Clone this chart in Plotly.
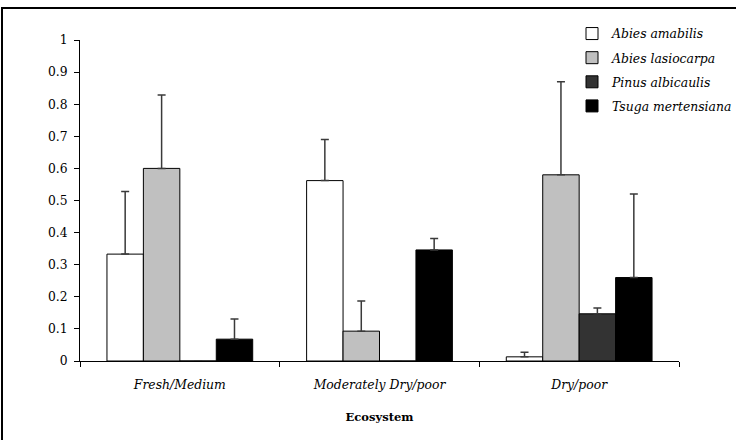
import plotly.graph_objects as go

categories = ["Fresh/Medium", "Moderately Dry/poor", "Dry/poor"]
species = ["Abies amabilis", "Abies lasiocarpa", "Pinus albicaulis", "Tsuga mertensiana"]
abies_amabilis = [0.333, 0.562, 0.013]
abies_lasiocarpa = [0.600, 0.093, 0.580]
pinus_albicaulis = [0.0, 0.0, 0.147]
tsuga_mertensiana = [0.068, 0.346, 0.260]
# upper error (plus) amounts
err_abies_amabilis = [0.195, 0.128, 0.014]
err_abies_lasiocarpa = [0.229, 0.094, 0.290]
err_pinus_albicaulis = [None, None, 0.018]
err_tsuga_mertensiana = [0.063, 0.036, 0.260]
y_tickvals = [0, 0.1, 0.2, 0.3, 0.4, 0.5, 0.6, 0.7, 0.8, 0.9, 1]
y_ticktext = ["0", "0.1", "0.2", "0.3", "0.4", "0.5", "0.6", "0.7", "0.8", "0.9", "1"]

values = [abies_amabilis, abies_lasiocarpa, pinus_albicaulis, tsuga_mertensiana]
errors = [err_abies_amabilis, err_abies_lasiocarpa, err_pinus_albicaulis, err_tsuga_mertensiana]
fills = ["#FFFFFF", "#C0C0C0", "#333333", "#000000"]

FONT = "DejaVu Serif"
W, H = 736, 440
L, R, T, B = 80, 57, 40, 79

fig = go.Figure()
for i, (name, vals, errs, col) in enumerate(zip(species, values, errors, fills)):
    fig.add_trace(go.Bar(
        name=name,
        x=categories,
        y=vals,
        marker=dict(color=col, line=dict(color="#000000", width=1)),
        error_y=dict(type="data", symmetric=False, array=errs, arrayminus=[0, 0, 0],
                     color="#3a3a3a", thickness=1.5, width=4),
        legendgroup=f"g{i}",
    ))

def px_to_paper_x(px):
    return (px - L) / (W - L - R)

def px_to_paper_y(py):
    return (H - B - py) / (H - T - B)

fig.update_layout(
    width=W, height=H,
    margin=dict(l=L, r=R, t=T, b=B, pad=0, autoexpand=False),
    paper_bgcolor="#FFFFFF",
    plot_bgcolor="#FFFFFF",
    barmode="group",
    bargap=0.27,
    bargroupgap=0,
    font=dict(family=FONT, size=12.4, color="#000000"),
    showlegend=True,
    legend=dict(
        x=px_to_paper_x(572), y=px_to_paper_y(19),
        xanchor="left", yanchor="top",
        font=dict(family=FONT, size=12.4, color="#000000", style="italic"),
        bgcolor="rgba(0,0,0,0)",
        tracegroupgap=5,
        itemwidth=30,
    ),
    xaxis=dict(
        automargin=False,
        showline=True, linecolor="#000000", linewidth=1,
        ticks="outside", ticklen=5, tickcolor="#000000", tickwidth=1,
        tickson="boundaries",
        showgrid=False, zeroline=False,
        tickfont=dict(family=FONT, size=12.4, color="#000000", style="italic"),
        ticklabelstandoff=12,
        title=dict(text="<b>Ecosystem</b>", font=dict(family=FONT, size=11.5, color="#000000"), standoff=22),
    ),
    yaxis=dict(
        automargin=False,
        range=[0, 1],
        tickvals=y_tickvals, ticktext=y_ticktext,
        showline=True, linecolor="#000000", linewidth=1,
        ticks="outside", ticklen=5, tickcolor="#000000", tickwidth=1,
        showgrid=False, zeroline=False,
        tickfont=dict(family=FONT, size=12.3, color="#000000"),
        ticklabelstandoff=4,
    ),
    shapes=[dict(
        type="rect", xref="paper", yref="paper",
        x0=px_to_paper_x(2), x1=px_to_paper_x(742),
        y0=px_to_paper_y(448), y1=px_to_paper_y(8),
        line=dict(color="#000000", width=2), fillcolor="rgba(0,0,0,0)",
        layer="above",
    )],
)

fig.write_html("out.html", config={"displayModeBar": False},
               post_script="document.body.style.margin='0';")
